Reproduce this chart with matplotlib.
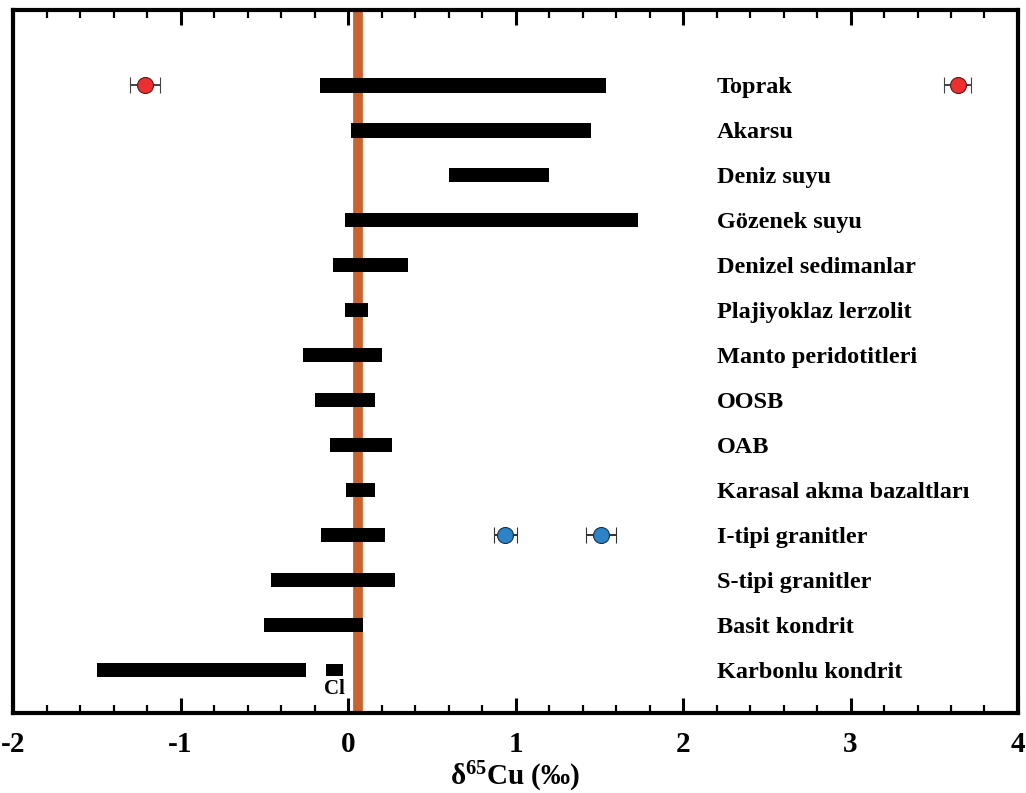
import numpy as np
import matplotlib
matplotlib.use("Agg")
import matplotlib.pyplot as plt
from matplotlib.ticker import MultipleLocator

plt.rcParams['font.family'] = ['Liberation Serif', 'DejaVu Serif']
plt.rcParams['font.weight'] = 'bold'
plt.rcParams['axes.unicode_minus'] = False
plt.rcParams['mathtext.fontset'] = 'custom'
plt.rcParams['mathtext.rm'] = 'Liberation Serif:bold'
plt.rcParams['mathtext.bf'] = 'Liberation Serif:bold'

#%% data
categories = ['Toprak', 'Akarsu', 'Deniz suyu', 'Gözenek suyu', 'Denizel sedimanlar',
              'Plajiyoklaz lerzolit', 'Manto peridotitleri', 'OOSB', 'OAB',
              'Karasal akma bazaltları', 'I-tipi granitler', 'S-tipi granitler',
              'Basit kondrit', 'Karbonlu kondrit']
range_min = [-0.17, 0.02, 0.60, -0.02, -0.09, -0.02, -0.27, -0.20, -0.11, -0.01,
             -0.16, -0.46, -0.50, -1.50]
range_max = [1.54, 1.45, 1.20, 1.73, 0.36, 0.12, 0.20, 0.16, 0.26, 0.16,
             0.22, 0.28, 0.09, -0.25]

# CI chondrite (extra short bar under Karbonlu kondrit)
ci_min, ci_max = -0.13, -0.03

# outliers: (category, value, error)
red_cat = ['Toprak', 'Toprak']
red_val = [-1.21, 3.64]
red_err = [0.09, 0.08]
blue_cat = ['I-tipi granitler', 'I-tipi granitler']
blue_val = [0.94, 1.51]
blue_err = [0.07, 0.09]

bulk_earth = 0.06

#%% plot
fig = plt.figure(figsize=(10.26, 7.93), dpi=100)
ax = fig.add_axes([0.0127, 0.101, 0.9795, 0.886])

ypos = np.arange(len(categories))
lo = np.array(range_min)
hi = np.array(range_max)
ax.barh(ypos, hi - lo, left=lo, height=0.32, color='black', zorder=3)
ax.barh(13, ci_max - ci_min, left=ci_min, height=0.26, color='black', zorder=3)
ax.text((ci_min + ci_max) / 2, 13.42, 'Cl', ha='center', va='center',
        fontsize=15, fontweight='bold', zorder=5)

ax.axvline(bulk_earth, color='#c8622f', lw=7, zorder=2)

ry = [categories.index(c) for c in red_cat]
ax.errorbar(red_val, ry, xerr=red_err, fmt='o', ms=11.5, mfc='#ee2f2f', mec='#5a1a1a',
            mew=0.8, ecolor='#444444', elinewidth=1.4, capsize=6, capthick=1.4, zorder=4)
by = [categories.index(c) for c in blue_cat]
ax.errorbar(blue_val, by, xerr=blue_err, fmt='o', ms=11.5, mfc='#2d83c8', mec='#1a2f4a',
            mew=0.8, ecolor='#333333', elinewidth=1.4, capsize=6, capthick=1.4, zorder=4)

for i, name in enumerate(categories):
    ax.text(2.2, i, name, ha='left', va='center_baseline', fontsize=17.5, fontweight='bold')

ax.set_xlim(-2, 4)
ax.set_ylim(13.96, -1.67)
ax.set_yticks([])
ax.xaxis.set_major_locator(MultipleLocator(1))
ax.xaxis.set_minor_locator(MultipleLocator(0.2))
ax.tick_params(axis='x', which='both', direction='in', top=True, bottom=True,
               labelsize=21, pad=13)
ax.tick_params(axis='x', which='major', length=11, width=2.2)
ax.tick_params(axis='x', which='minor', length=6, width=1.6)
for lab in ax.get_xticklabels():
    lab.set_fontweight('bold')
for s in ax.spines.values():
    s.set_linewidth(3)

ax.set_xlabel(r'$\mathregular{\delta^{65}}$Cu (‰)', fontsize=21, fontweight='bold', labelpad=1)

fig.savefig('out.png', dpi=100)
